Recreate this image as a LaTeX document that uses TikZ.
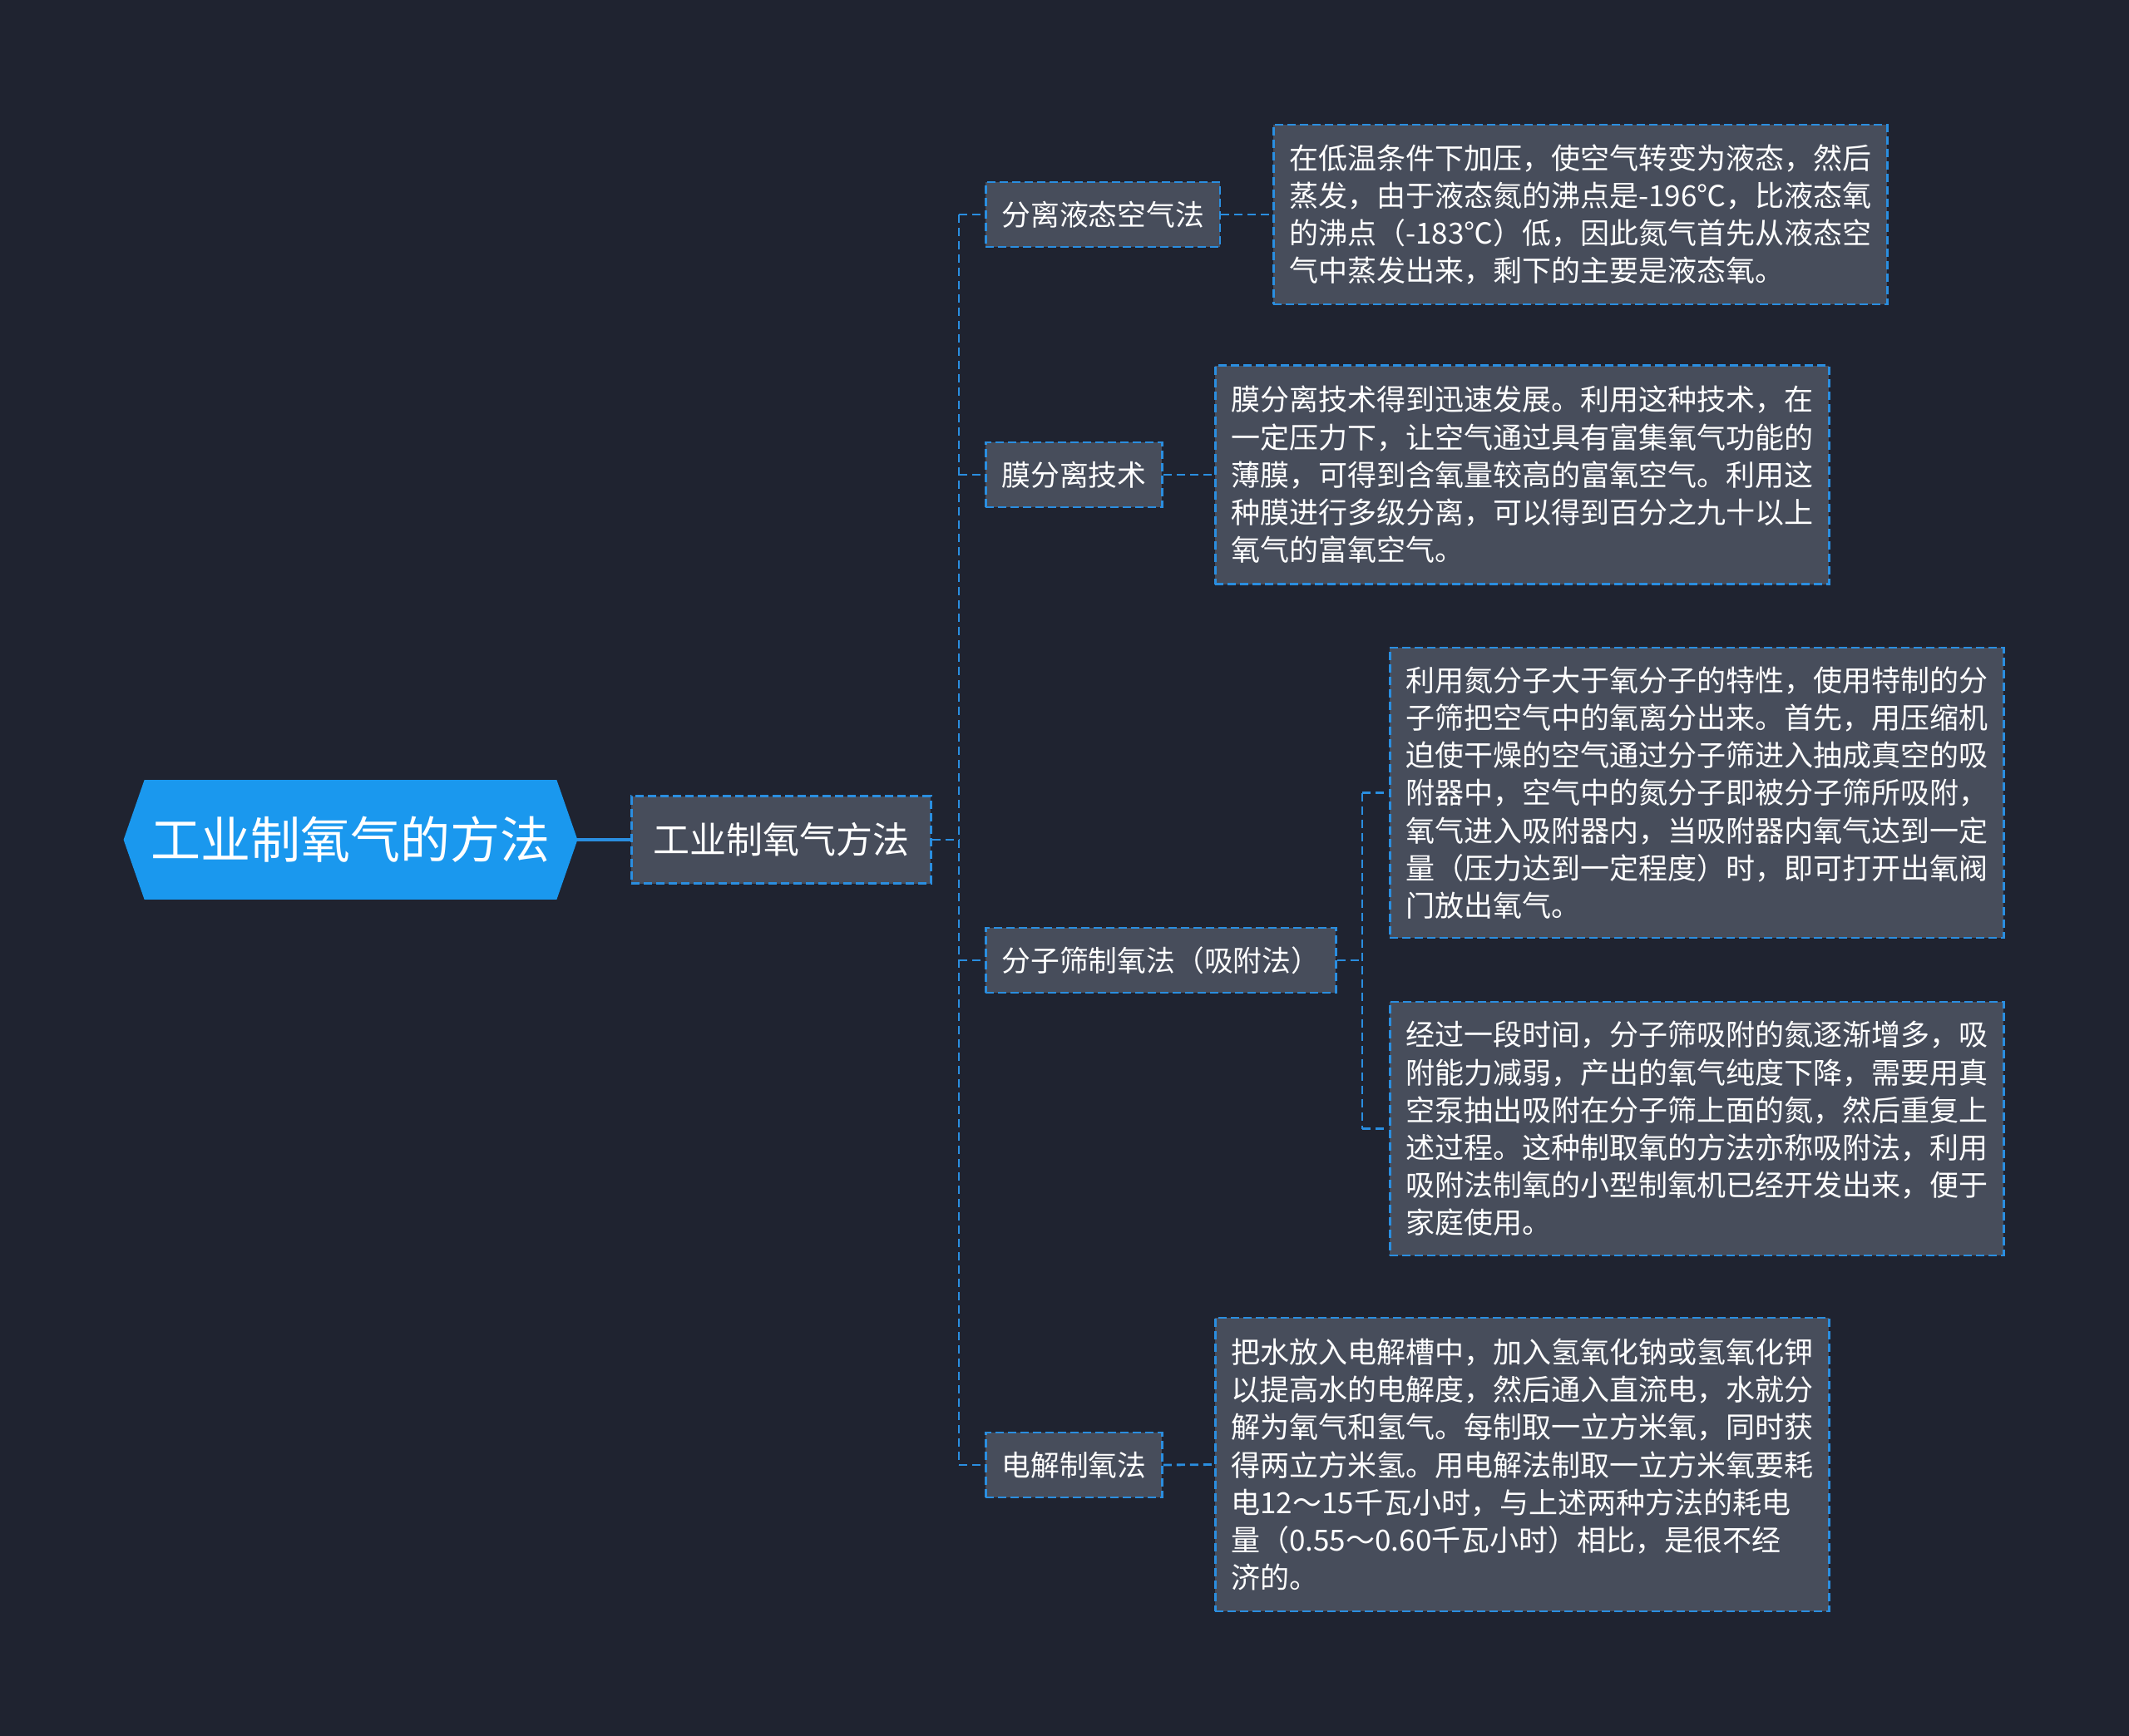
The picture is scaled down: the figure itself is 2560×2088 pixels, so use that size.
\documentclass[tikz,border=0pt]{standalone}
\usepackage{fontspec}
\setmainfont{Noto Sans CJK SC}
\usetikzlibrary{calc}
\pgfdeclarelayer{back}
\pgfsetlayers{back,main}
\definecolor{bg}{HTML}{1F2330}
\definecolor{boxfill}{HTML}{474D5B}
\definecolor{edge}{HTML}{2A8EE0}
\definecolor{rootblue}{HTML}{1A98EE}
\begin{document}
\begin{tikzpicture}[x=0.5pt,y=-0.5pt,
  box/.style={draw=edge, line width=1.4pt, dash pattern=on 5pt off 2.5pt, fill=boxfill, text=white, inner xsep=9.5pt, inner ysep=0pt, anchor=west},
  sub/.style={box, font=\fontsize{17.4}{20}\selectfont, minimum height=39pt},
  leaf/.style={box, font=\fontsize{17.5}{22.6}\selectfont, align=left, text width=350pt},
  conn/.style={draw=edge, line width=1.4pt, dash pattern=on 5pt off 3pt}]
\begin{pgfonlayer}{back}
\fill[bg] (0,0) rectangle (2560,2088);
\end{pgfonlayer}
\useasboundingbox (0,0) rectangle (2560,2088);

% root
\node[text=white, font=\fontsize{30}{34}\selectfont, minimum width=272.5pt, minimum height=71.5pt, inner sep=0pt] (root) at (421.5,1010) {工业制氧气的方法};
\begin{pgfonlayer}{back}
\fill[rootblue] (root.west) -- ($(root.north west)+(25,0)$) -- ($(root.north east)+(-25,0)$) -- (root.east) -- ($(root.south east)+(-25,0)$) -- ($(root.south west)+(25,0)$) -- cycle;
\end{pgfonlayer}

% main
\node[box, font=\fontsize{22}{26}\selectfont, inner xsep=13pt, minimum height=52.5pt] (main) at (758,1010) {工业制氧气方法};

% level 2
\node[sub] (a) at (1184,258) {分离液态空气法};
\node[sub] (b) at (1184,571) {膜分离技术};
\node[sub] (c) at (1184,1155) {分子筛制氧法（吸附法）};
\node[sub] (d) at (1184,1762) {电解制氧法};

% leaves
\node[leaf, minimum height=108pt] (a1) at (1530,258) {在低温条件下加压，使空气转变为液态，然后\\\mbox{蒸发，由于液态氮的沸点是-196℃，比液态氧}\\\mbox{的沸点（-183℃）低，因此氮气首先从液态空}\\气中蒸发出来，剩下的主要是液态氧。};
\node[leaf, minimum height=131.5pt] (b1) at (1460,571) {膜分离技术得到迅速发展。利用这种技术，在\\一定压力下，让空气通过具有富集氧气功能的\\薄膜，可得到含氧量较高的富氧空气。利用这\\种膜进行多级分离，可以得到百分之九十以上\\氧气的富氧空气。};
\node[leaf, minimum height=174.5pt] (c1) at (1670,953.5) {利用氮分子大于氧分子的特性，使用特制的分\\子筛把空气中的氧离分出来。首先，用压缩机\\迫使干燥的空气通过分子筛进入抽成真空的吸\\附器中，空气中的氮分子即被分子筛所吸附，\\氧气进入吸附器内，当吸附器内氧气达到一定\\量（压力达到一定程度）时，即可打开出氧阀\\门放出氧气。};
\node[leaf, minimum height=152.5pt] (c2) at (1670,1357.5) {经过一段时间，分子筛吸附的氮逐渐增多，吸\\附能力减弱，产出的氧气纯度下降，需要用真\\空泵抽出吸附在分子筛上面的氮，然后重复上\\述过程。这种制取氧的方法亦称吸附法，利用\\吸附法制氧的小型制氧机已经开发出来，便于\\家庭使用。};
\node[leaf, minimum height=176.5pt] (d1) at (1460,1761.5) {把水放入电解槽中，加入氢氧化钠或氢氧化钾\\以提高水的电解度，然后通入直流电，水就分\\解为氧气和氢气。每制取一立方米氧，同时获\\得两立方米氢。用电解法制取一立方米氧要耗\\电12～15千瓦小时，与上述两种方法的耗电\\量（0.55～0.60千瓦小时）相比，是很不经\\济的。};

% connectors
\draw[draw=edge, line width=1.8pt] (root.east) -- (main.west);
\coordinate (busT) at (1153,258);
\coordinate (busB) at (1153,1762);
\draw[conn] (main.east) -- (main.east -| busT);
\draw[conn] (busT) -- (busB);
\draw[conn] (busT |- a.west) -- (a.west);
\draw[conn] (busT |- b.west) -- (b.west);
\draw[conn] (busT |- c.west) -- (c.west);
\draw[conn] (busT |- d.west) -- (d.west);
\draw[conn] (a.east) -- (a1.west);
\draw[conn] (b.east) -- (b1.west);
\draw[conn] (d.east) -- (d1.west);
\coordinate (cbusT) at (1638,953.5);
\coordinate (cbusB) at (1638,1357.5);
\draw[conn] (c.east) -- (c.east -| cbusT);
\draw[conn] (cbusT) -- (cbusB);
\draw[conn] (cbusT) -- (c1.west);
\draw[conn] (cbusB) -- (c2.west);
\end{tikzpicture}
\end{document}
